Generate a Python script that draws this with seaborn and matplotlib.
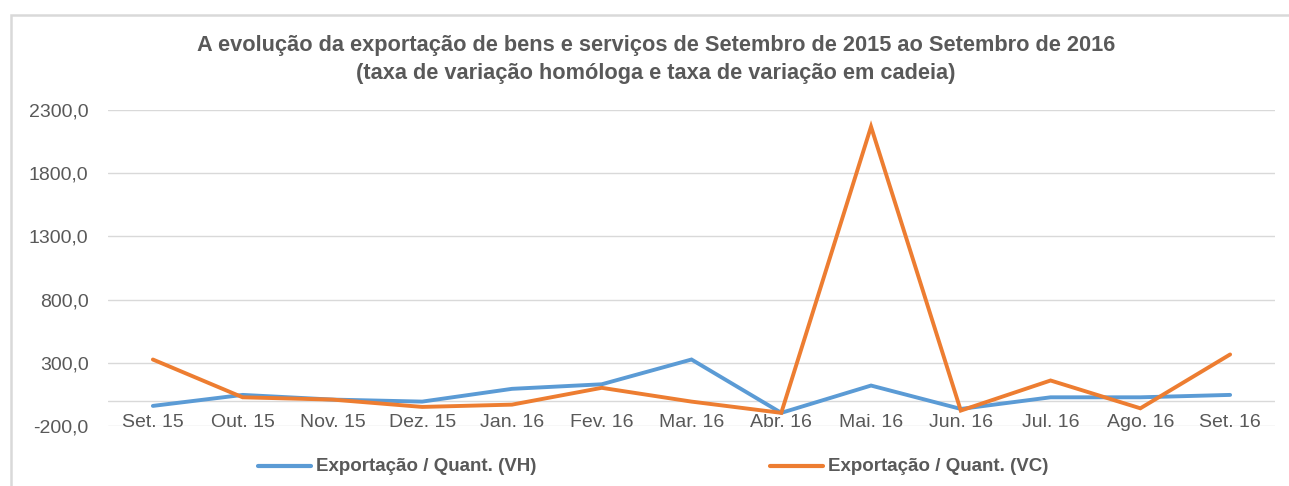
import numpy as np
import pandas as pd
import matplotlib
matplotlib.use("Agg")
import matplotlib.pyplot as plt
from matplotlib.patches import Rectangle
import seaborn as sns

months = ["Set. 15", "Out. 15", "Nov. 15", "Dez. 15", "Jan. 16", "Fev. 16", "Mar. 16",
          "Abr. 16", "Mai. 16", "Jun. 16", "Jul. 16", "Ago. 16", "Set. 16"]
vh = [-41, 46, 9, -7, 94, 130, 326, -96, 120, -65, 27, 27, 46]
vc = [326, 27, 9, -49, -31, 102, -7, -96, 2168, -78, 160, -60, 366]
series_names = ["Exportação / Quant. (VH)", "Exportação / Quant. (VC)"]
yticks = [-200, 300, 800, 1300, 1800, 2300]

sns.set_theme(style="white")
plt.rcParams['font.family'] = ['Liberation Sans', 'DejaVu Sans']

gray_txt = "#595959"
grid_col = "#d9d9d9"
colors = ["#5B9BD5", "#ED7D31"]

df = pd.DataFrame({
    "pos": list(range(len(months))) * 2,
    "valor": vh + vc,
    "serie": [series_names[0]] * len(months) + [series_names[1]] * len(months),
})

fig = plt.figure(figsize=(12.89, 4.86), dpi=100)
ax = fig.add_axes([108 / 1289, 1 - 426 / 486, 1167 / 1289, 316 / 486])

# gridlines and the category axis at zero
for t in yticks:
    ax.axhline(t, color=grid_col, lw=1, zorder=0)
ax.axhline(0, color=grid_col, lw=1, zorder=0)

sns.lineplot(data=df, x="pos", y="valor", hue="serie", palette=colors,
             linewidth=2.8, ax=ax, legend=False)
for ln in ax.lines:
    ln.set_solid_joinstyle("miter")

ax.set_xlim(-0.5, len(months) - 0.5)
ax.set_ylim(-200, 2300)
ax.set_xticks(range(len(months)))
ax.set_xticklabels(months)
ax.set_yticks(yticks)
ax.set_yticklabels([f"{t:.1f}".replace(".", ",") for t in yticks])
ax.tick_params(axis="x", length=0, pad=-9, labelsize=14, colors=gray_txt)
ax.tick_params(axis="y", length=0, pad=14, labelsize=14, colors=gray_txt)
ax.set_xlabel("")
ax.set_ylabel("")
for s in ax.spines.values():
    s.set_visible(False)

fig.text(656 / 1289, 1 - 46 / 486,
         "A evolução da exportação de bens e serviços de Setembro de 2015 ao Setembro de 2016",
         ha="center", va="center", fontsize=15.7, fontweight="bold", color=gray_txt)
fig.text(656 / 1289, 1 - 73 / 486,
         "(taxa de variação homóloga e taxa de variação em cadeia)",
         ha="center", va="center", fontsize=15.7, fontweight="bold", color=gray_txt)

# legend entries
for i, (x0, name) in enumerate([(258, series_names[0]), (770, series_names[1])]):
    fig.add_artist(plt.Line2D([x0 / 1289, (x0 + 53) / 1289], [1 - 466 / 486] * 2,
                              color=colors[i], lw=3, transform=fig.transFigure))
    fig.text((x0 + 58) / 1289, 1 - 466 / 486, name, ha="left", va="center",
             fontsize=13.5, fontweight="bold", color=gray_txt)

# chart border
fig.add_artist(Rectangle((11 / 1289, -0.2), 1.2, 1.2 - 15 / 486, fill=False,
                         edgecolor=grid_col, lw=1.8, transform=fig.transFigure))

fig.savefig("out.png", dpi=100)
